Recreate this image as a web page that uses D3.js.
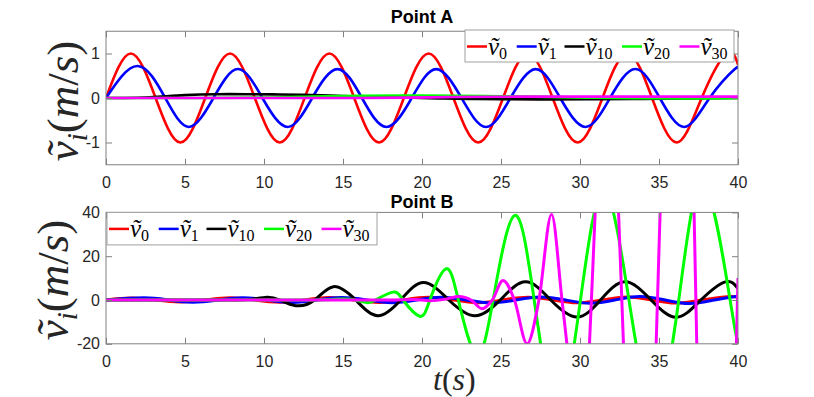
<!DOCTYPE html>
<html><head><meta charset="utf-8">
<script src="https://cdn.jsdelivr.net/npm/d3@7"></script>
<style>body{margin:0;background:#fff} svg{display:block} .math{font-family:"Liberation Serif","DejaVu Serif","Times New Roman",serif}</style>
</head><body><svg id="c" width="814" height="397"></svg>
<script>
// ---------------- DATA ----------------
const tTicks = [0,5,10,15,20,25,30,35,40];
const yTicksA = [-1,0,1];
const yTicksB = [-20,0,20,40];
const seriesNames = ["0","1","10","20","30"];
const titles = ["Point A","Point B"];

// Point A series: [t, v]
const A_v0 = [[0,0],[1.57,1],[3.14,0],[4.71,-1],[6.28,0],[7.85,1],[9.42,0],[11.0,-1],[12.57,0],[14.14,1],[15.71,0],[17.28,-1],[18.85,0],[20.42,1],[21.99,0],[23.56,-1],[25.13,0],[26.7,1],[28.27,0],[29.85,-1],[31.42,0],[33.0,1],[34.56,0],[36.13,-1],[37.7,0],[39.27,1],[40,0.75]];
const A_v1 = [[0,0],[2.0,0.72],[3.75,0],[5.25,-0.65],[6.8,0],[8.35,0.65],[9.9,0],[11.5,-0.65],[13.05,0],[14.65,0.65],[16.2,0],[17.75,-0.65],[19.35,0],[20.9,0.65],[22.5,0],[24.05,-0.65],[25.6,0],[27.2,0.65],[28.75,0],[30.35,-0.65],[31.9,0],[33.5,0.65],[35.05,0],[36.6,-0.65],[38.2,0],[39.8,0.65],[40,0.645]];
const A_v10 = [[0,0],[2,0.005],[3.5,0.03],[5,0.065],[7,0.085],[9,0.085],[11,0.08],[13,0.065],[15,0.045],[17,0.025],[19,0.008],[21,-0.008],[23,-0.02],[25,-0.028],[28,-0.03],[31,-0.028],[34,-0.022],[37,-0.01],[40,0]];
const A_v20 = [[0,0],[5,0],[10,0.01],[13,0.035],[16,0.05],[20,0.055],[24,0.045],[28,0.025],[31,0.005],[34,-0.005],[37,-0.008],[40,-0.005]];
const A_v30 = [[0,0],[10,0],[15,0],[19,0.008],[22,0.022],[26,0.03],[30,0.03],[35,0.03],[40,0.03]];

// Point B series: [t, v]
const B_v0 = [[0,0],[1.6,0.9],[3.15,0],[4.7,-0.9],[6.3,0],[7.85,1.0],[9.4,0],[11,-1.0],[12.55,0],[14.1,1.1],[15.7,0],[17.3,-1.1],[18.85,0],[20.4,1.2],[22,0],[23.55,-1.2],[25.1,0],[26.7,1.3],[28.3,0],[29.85,-1.3],[31.4,0],[33,1.4],[34.55,0],[36.1,-1.4],[37.7,0],[39.3,1.5],[40,1.4]];
const B_v1 = [[0,0],[2.4,1.0],[3.95,0],[5.5,-1.0],[7.1,0],[8.65,1.0],[10.2,0],[11.8,-1.1],[13.4,0],[14.9,1.1],[16.5,0],[18.1,-1.2],[19.65,0],[21.2,1.2],[22.8,0],[24.4,-1.3],[25.95,0],[27.5,1.4],[29.1,0],[30.65,-1.5],[32.2,0],[33.8,1.6],[35.4,0],[36.95,-1.6],[38.5,0],[40,1.7]];
const B_v10 = [[0,0],[3,0],[6,0],[8.3,0.05],[9.3,0.4],[10.2,1.3],[11.0,0],[12.0,-2.6],[13.2,0],[14.4,6.1],[15.8,0],[17.2,-7.2],[18.65,0],[20.1,8.0],[21.7,0],[23.35,-7.2],[24.95,0],[26.55,8.3],[28.15,0],[29.8,-7.8],[31.3,0],[32.85,8.3],[34.5,0],[36.1,-7.9],[37.65,0],[39.2,8.3],[40,5.2]];
const B_v20 = [[0,0],[5,0],[10,0],[13,0],[14.9,0.4],[15.75,0],[16.5,-1.2],[17.05,0],[18.15,3.6],[18.8,0],[19.85,-7.4],[20.5,0],[21.5,14.2],[22.3,0],[23.45,-25],[24.5,0],[25.85,38.6],[27.1,0],[28.57,-50],[30.03,0],[31.5,50],[33.1,0],[34.7,-50],[36.25,0],[37.8,53],[39.5,0],[40,-20]];
const B_v30 = [[0,0],[5,0],[10,0],[15,0],[18,0],[19.5,0.2],[20.5,-0.3],[21.5,0.4],[22.35,1.6],[23.1,0],[23.8,-4],[24.45,0],[25.13,8.9],[25.85,0],[26.65,-20],[27.4,0],[28.2,39],[28.86,0],[29.17,-20],[29.95,-70],[30.6,-20],[30.96,40],[31.7,130],[32.44,40],[32.75,-20],[33.8,-150],[34.82,-20],[35.07,40],[36.15,200],[37.22,40],[37.39,-20],[38.7,-250],[39.9,-20],[40,10]];

// ---------------- LAYOUT / STYLE ----------------
const colors = ["#ff0000","#0000ff","#000000","#00ff00","#ff00ff"];
const svg = d3.select("#c");
const axColor = "#808080", txtColor = "#262626";
const xLeft = 106, xRight = 738;

function panel(cfg) {
  const x = d3.scaleLinear().domain([0,40]).range([xLeft, xRight]);
  const y = d3.scaleLinear().domain(cfg.ydom).range([cfg.bottom, cfg.top]);
  const g = svg.append("g");
  const cid = "clip" + cfg.id;
  svg.append("clipPath").attr("id", cid).append("rect")
    .attr("x", xLeft).attr("y", cfg.top).attr("width", xRight - xLeft).attr("height", cfg.bottom - cfg.top);
  const lines = g.append("g").attr("clip-path", `url(#${cid})`);
  cfg.series.forEach((s, i) => {
    const line = d3.line().x(d => x(d[0])).y(d => y(d[1])).curve(cfg.curves[i]);
    lines.append("path").attr("d", line(s)).attr("fill", "none")
      .attr("stroke", colors[i]).attr("stroke-width", cfg.lw).attr("stroke-linejoin", "round");
  });
  const styleAxis = sel => {
    sel.select(".domain").remove();
    sel.selectAll(".tick line").attr("stroke", axColor);
    sel.selectAll(".tick text").attr("fill", txtColor)
      .attr("font-family", "Liberation Sans, Arial, sans-serif").attr("font-size", 16);
  };
  g.append("g").attr("transform", `translate(0,${cfg.bottom})`)
    .call(d3.axisBottom(x).tickValues(tTicks).tickSize(-6).tickPadding(12).tickFormat(d => String(d))).call(styleAxis);
  g.append("g").attr("transform", `translate(0,${cfg.top})`)
    .call(d3.axisTop(x).tickValues(tTicks).tickSize(-6).tickFormat("")).call(styleAxis);
  g.append("g").attr("transform", `translate(${xLeft},0)`)
    .call(d3.axisLeft(y).tickValues(cfg.yTicks).tickSize(-6).tickPadding(6).tickFormat(d => String(d))).call(styleAxis);
  g.append("g").attr("transform", `translate(${xRight},0)`)
    .call(d3.axisRight(y).tickValues(cfg.yTicks).tickSize(-6).tickFormat("")).call(styleAxis);
  g.append("rect").attr("x", xLeft).attr("y", cfg.top).attr("width", xRight - xLeft)
    .attr("height", cfg.bottom - cfg.top).attr("fill", "none").attr("stroke", axColor).attr("stroke-width", 1);
  g.append("text").attr("x", (xLeft + xRight) / 2).attr("y", cfg.titleY).attr("text-anchor", "middle")
    .attr("font-family", "Liberation Sans, Arial, sans-serif").attr("font-weight", "bold")
    .attr("font-size", 18).attr("fill", "#000").text(cfg.title);
  const yl = g.append("text").attr("class", "math").attr("transform", `translate(${cfg.ylabX},${cfg.ylabY}) rotate(-90)`)
    .attr("text-anchor", "middle").attr("fill", txtColor).attr("font-size", 45);
  yl.append("tspan").attr("font-style", "italic").text("ṽ");
  yl.append("tspan").attr("font-style", "italic").attr("font-size", 29).attr("dy", 9).text("i");
  yl.append("tspan").attr("dy", -9).text("(");
  yl.append("tspan").attr("font-style", "italic").text("m");
  yl.append("tspan").text("/");
  yl.append("tspan").attr("font-style", "italic").text("s");
  yl.append("tspan").text(")");
  const L = cfg.legend;
  const lg = g.append("g");
  lg.append("rect").attr("x", L.x).attr("y", L.y).attr("width", L.w).attr("height", L.h)
    .attr("fill", "#fff").attr("stroke", "#a0a0a0").attr("stroke-width", 1);
  const offs = [2, 51.7, 99.5, 157, 214.5];
  seriesNames.forEach((n, i) => {
    const lx = L.x + offs[i], ly = L.y + 16.5;
    lg.append("line").attr("x1", lx).attr("x2", lx + 20).attr("y1", ly).attr("y2", ly)
      .attr("stroke", colors[i]).attr("stroke-width", 2.5);
    const t = lg.append("text").attr("class", "math").attr("x", lx + 21).attr("y", ly + 8.5).attr("fill", "#000")
      .attr("font-size", 25);
    t.append("tspan").attr("font-style", "italic").text("ṽ");
    t.append("tspan").attr("font-size", 16).attr("dy", 4).text(n);
  });
}

panel({id: "A", ydom: [-1.5, 1.5], top: 31.25, bottom: 164.75, yTicks: yTicksA,
  series: [A_v0, A_v1, A_v10, A_v20, A_v30],
  curves: [d3.curveNatural, d3.curveNatural, d3.curveNatural, d3.curveNatural, d3.curveNatural],
  lw: 2.6, title: titles[0], titleY: 23, ylabX: 78, ylabY: 101,
  legend: {x: 465, y: 30, w: 269, h: 32}});

panel({id: "B", ydom: [-20, 40], top: 212.4, bottom: 343.8, yTicks: yTicksB,
  series: [B_v0, B_v1, B_v10, B_v20, B_v30],
  curves: [d3.curveNatural, d3.curveNatural, d3.curveNatural, d3.curveNatural, d3.curveMonotoneX],
  lw: 3, title: titles[1], titleY: 208, ylabX: 68, ylabY: 280,
  legend: {x: 107, y: 212.4, w: 270, h: 32.5}});

// x label (placed just right of the "20" tick label so the two do not collide)
const xl = svg.append("text").attr("class", "math").attr("x", 433).attr("y", 390).attr("text-anchor", "start")
  .attr("fill", txtColor).attr("font-size", 32);
xl.append("tspan").attr("font-style", "italic").text("t");
xl.append("tspan").text("(");
xl.append("tspan").attr("font-style", "italic").text("s");
xl.append("tspan").text(")");
</script></body></html>
